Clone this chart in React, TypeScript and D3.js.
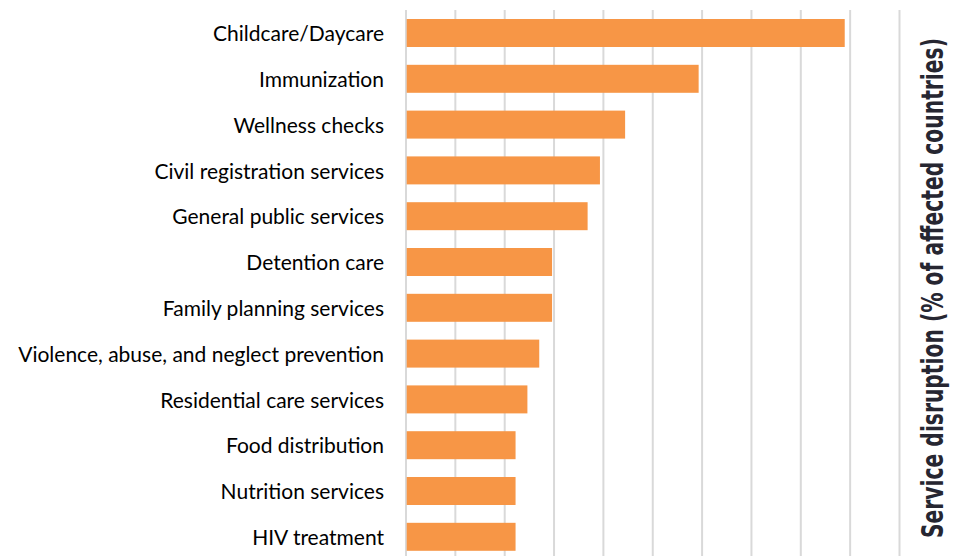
import React, { useLayoutEffect, useRef, useState } from "react";
import * as d3 from "d3";

const categories: string[] = [
  "Childcare/Daycare",
  "Immunization",
  "Wellness checks",
  "Civil registration services",
  "General public services",
  "Detention care",
  "Family planning services",
  "Violence, abuse, and neglect prevention",
  "Residential care services",
  "Food distribution",
  "Nutrition services",
  "HIV treatment",
];

const disruption: number[] = [88.9, 59.3, 44.4, 39.3, 36.8, 29.6, 29.6, 27.0, 24.6, 22.2, 22.2, 22.2];

const gridTicks: number[] = [0, 10, 20, 30, 40, 50, 60, 70, 80, 90, 100];

const axisTitle = "Service disruption (% of affected countries)";

const W = 962;
const H = 556;
const TITLE_LEN = 500;

export default function App() {
  const titleRef = useRef<SVGTextElement>(null);
  const [sx, setSx] = useState(0.75);

  useLayoutEffect(() => {
    if (titleRef.current) {
      const natural = titleRef.current.getComputedTextLength();
      if (natural > 0) setSx(TITLE_LEN / natural);
    }
  }, []);

  const x = d3.scaleLinear().domain([0, 100]).range([406, 899.5]);
  const y = d3
    .scaleBand<string>()
    .domain(categories)
    .range([10.1, 10.1 + 45.8 * categories.length])
    .paddingInner(0.389)
    .paddingOuter(0.1945);

  return (
    <svg
      width={W}
      height={H}
      style={{ position: "absolute", left: 0, top: 0, background: "#fff" }}
    >
      <rect x={0} y={0} width={W} height={H} fill="#fff" />
      {gridTicks.map((t) => (
        <line
          key={t}
          x1={x(t)}
          x2={x(t)}
          y1={10}
          y2={H + 10}
          stroke="#d9d9d9"
          strokeWidth={2}
        />
      ))}
      {categories.map((c, i) => (
        <rect
          key={c}
          x={x(0) + 0.7}
          y={y(c)!}
          width={x(disruption[i]) - x(0) - 0.7}
          height={y.bandwidth()}
          fill="#F79646"
        />
      ))}
      {categories.map((c) => (
        <text
          key={c}
          x={384}
          y={y(c)! + y.bandwidth() / 2}
          dy="0.39em"
          textAnchor="end"
          fontFamily="Lato, 'Open Sans', sans-serif"
          fontSize={21}
          fill="#000"
        >
          {c}
        </text>
      ))}
      <text
        ref={titleRef}
        transform={`translate(943,538) rotate(-90) scale(${sx},1)`}
        textAnchor="start"
        fontFamily="'DejaVu Sans Condensed', 'DejaVu Sans', sans-serif"
        fontWeight="bold"
        fontSize={31}
        fill="#262631"
      >
        {axisTitle}
      </text>
    </svg>
  );
}
